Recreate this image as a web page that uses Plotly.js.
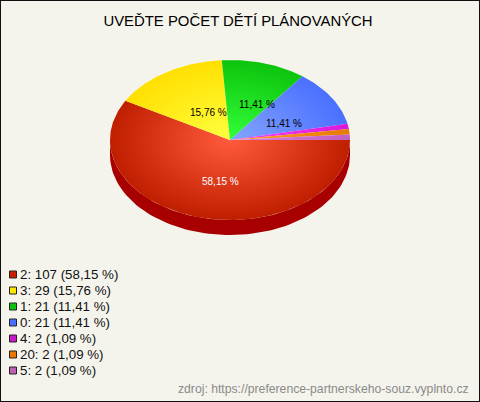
<!DOCTYPE html>
<html><head><meta charset="utf-8">
<script src="https://cdn.plot.ly/plotly-3.0.1.min.js"></script>
<style>html,body{margin:0;padding:0;background:#f5f4ec}#c{width:480px;height:402px}</style>
</head><body><div id="c"></div>
<script>
const categories = ['2','3','1','0','4','20','5'];
const counts = [107,29,21,21,2,2,2];
const percentLabels = ['58,15 %','15,76 %','11,41 %','11,41 %','1,09 %','1,09 %','1,09 %'];
const innerColors = ['#ff5a3c','#ffff40','#33ff3a','#85a5ff','#ff40ff','#ffa030','#e080e0'];
const outerColors = ['#c01e00','#ffe000','#0cc40c','#4a70ff','#d818d8','#e87800','#c060c0'];
const legendColors = ['#c81e00','#ffe800','#10c010','#4a70ff','#c818c8','#e87800','#c060b0'];
const labelColors = ['#ffffff','#000000','#000000','#000000'];
const labelAnchors = [[220,181],[208,112],[257,104],[284,123]];
const legendRows = [274,290,306,322,338,354,370];
const cx=230, cy=140, rx=120, ry=80, depth=15;
const total = counts.reduce((a,b)=>a+b,0);
const traces=[];
// side wall
{
  const xs=[],ys=[];
  for(let a=0;a<=180;a+=2){xs.push(cx+rx*Math.cos(a*Math.PI/180));ys.push(cy+ry*Math.sin(a*Math.PI/180)+depth);}
  for(let a=180;a>=0;a-=2){xs.push(cx+rx*Math.cos(a*Math.PI/180));ys.push(cy+ry*Math.sin(a*Math.PI/180));}
  xs.push(xs[0]);ys.push(ys[0]);
  traces.push({x:xs,y:ys,mode:'lines',fill:'toself',fillcolor:'#a80000',line:{width:0},hoverinfo:'skip',showlegend:false});
}
// slices, clockwise from 3 o'clock
let start=0;
counts.forEach((v,i)=>{
  const sweep=v/total*360;
  const xs=[],ys=[];
  // zero-area spurs make the fill's bounding box equal to the whole ellipse
  const spur=[[cx-rx,cy],[cx,cy],[cx+rx,cy],[cx,cy],[cx,cy-ry],[cx,cy],[cx,cy+ry],[cx,cy]];
  spur.forEach(p=>{xs.push(p[0]);ys.push(p[1]);});
  const n=Math.max(6,Math.ceil(sweep));
  for(let k=0;k<=n;k++){
    const a=(start+sweep*k/n)*Math.PI/180;
    xs.push(cx+rx*Math.cos(a));ys.push(cy+ry*Math.sin(a));
  }
  xs.push(cx);ys.push(cy);
  traces.push({x:xs,y:ys,mode:'lines',fill:'toself',line:{width:0},hoverinfo:'skip',showlegend:false,
    fillcolor:outerColors[i],
    fillgradient:{type:'radial',colorscale:[[0,innerColors[i]],[1,outerColors[i]]]}});
  start+=sweep;
});
// legend swatches
traces.push({x:legendRows.map(()=>13),y:legendRows.map(r=>r+0.5),mode:'markers',hoverinfo:'skip',showlegend:false,
  marker:{symbol:'square',size:7,color:legendColors,line:{color:'#222222',width:1}}});
const F='Liberation Sans, Arial, sans-serif';
const ann=[];
labelAnchors.forEach((p,i)=>ann.push({x:p[0],y:p[1],xref:'x',yref:'y',text:percentLabels[i],showarrow:false,
  font:{family:F,size:10,color:labelColors[i]},xanchor:'center',yanchor:'middle'}));
categories.forEach((c,i)=>ann.push({x:20,y:legendRows[i],xref:'x',yref:'y',
  text:c+': '+counts[i]+' ('+percentLabels[i]+')',showarrow:false,font:{family:F,size:13.3,color:'#111111'},
  xanchor:'left',yanchor:'middle',xshift:-2}));
ann.push({x:471,y:389,xref:'x',yref:'y',text:'zdroj: https://preference-partnerskeho-souz.vyplnto.cz',showarrow:false,
  font:{family:F,size:12.2,color:'#8a8a8a'},xanchor:'right',yanchor:'middle'});
const layout={width:480,height:402,margin:{l:0,r:0,t:0,b:0},paper_bgcolor:'#f5f4ec',plot_bgcolor:'#f5f4ec',
  title:{text:'UVEĎTE POČET DĚTÍ PLÁNOVANÝCH',x:238/480,xanchor:'center',y:1-21/402,yanchor:'middle',font:{family:F,size:14.9,color:'#000000'}},
  xaxis:{range:[0,480],visible:false,fixedrange:true},
  yaxis:{range:[402,0],visible:false,fixedrange:true},
  annotations:ann,
  shapes:[{type:'rect',xref:'paper',yref:'paper',x0:0,x1:1,y0:0,y1:1,line:{color:'#111111',width:2},fillcolor:'rgba(0,0,0,0)'}],
  showlegend:false};
Plotly.newPlot('c',traces,layout,{staticPlot:true,displayModeBar:false});
</script></body></html>
